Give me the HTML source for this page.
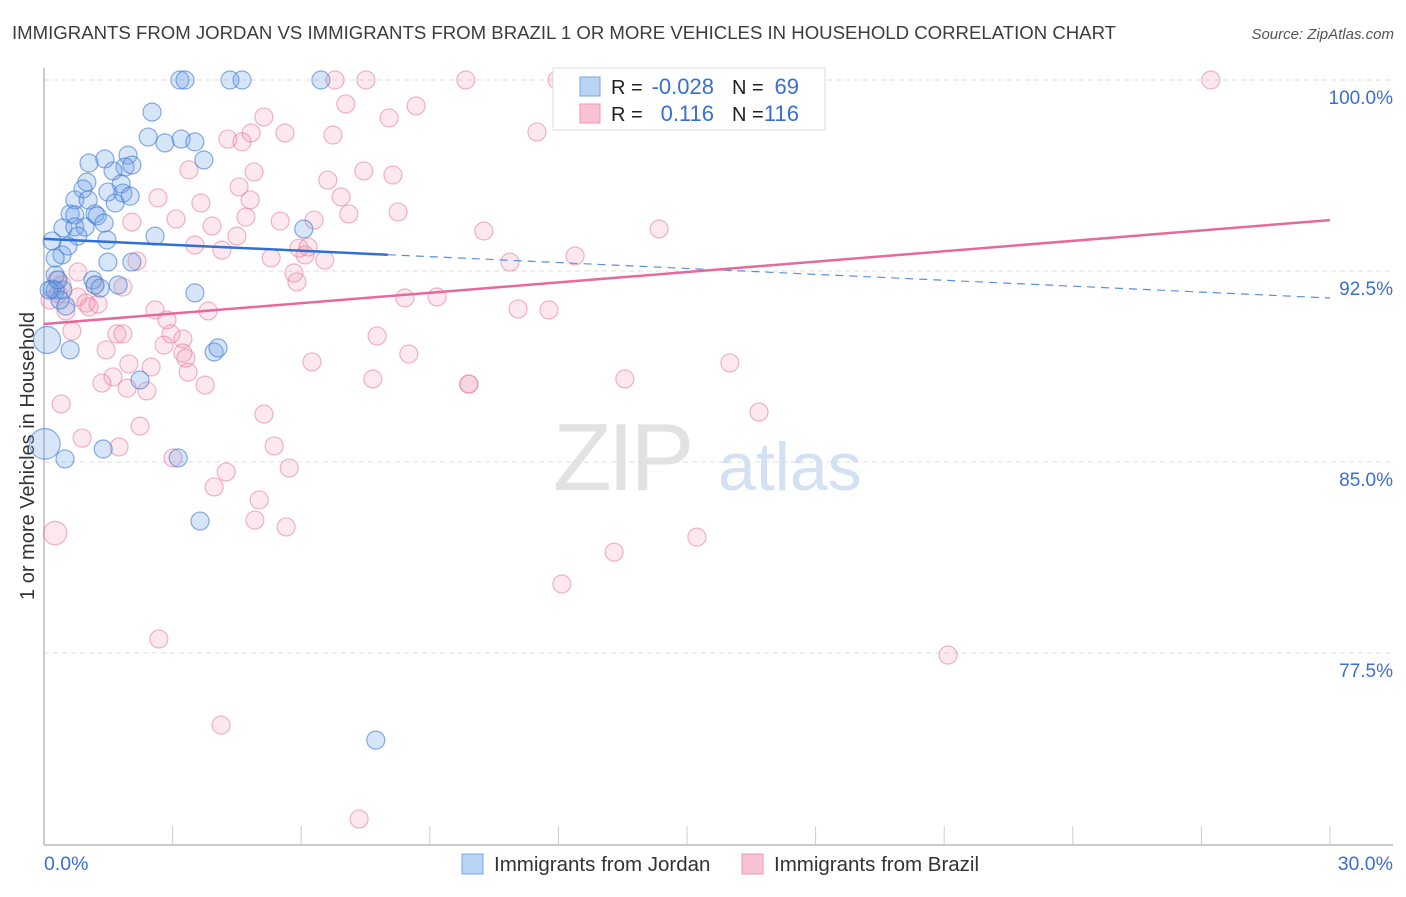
<!DOCTYPE html>
<html><head><meta charset="utf-8">
<style>
body{margin:0;background:#fff;font-family:"Liberation Sans",sans-serif;}
svg text{font-family:"Liberation Sans",sans-serif;}
</style></head>
<body>
<svg id="chart" width="1406" height="892" viewBox="0 0 1406 892" xmlns="http://www.w3.org/2000/svg">
<text x="12" y="39" font-size="18.6" fill="#3c3c3c">IMMIGRANTS FROM JORDAN VS IMMIGRANTS FROM BRAZIL 1 OR MORE VEHICLES IN HOUSEHOLD CORRELATION CHART</text>
<text x="1394" y="39" font-size="15" fill="#555" font-style="italic" text-anchor="end">Source: ZipAtlas.com</text>
<text transform="translate(34,456) rotate(-90)" font-size="20" fill="#333" text-anchor="middle">1 or more Vehicles in Household</text>
<g>
<text x="553" y="490" font-size="96" fill="#e2e2e2" font-family="Liberation Serif, serif" letter-spacing="-4">ZIP</text>
<text x="718" y="490" font-size="68" fill="#d3e1f3">atlas</text>
</g>
<g id="grid"></g>
<g id="axes"></g>
<g id="pts"></g>
<g id="trend"></g>
<g>
<rect x="553" y="68" width="272" height="62" fill="#fff" stroke="#ddd"/>
<rect x="580" y="77" width="20" height="19" fill="#b8d3f3" stroke="#7aa7e0"/>
<rect x="580" y="104" width="20" height="19" fill="#f7c3d3" stroke="#ec97b2"/>
<text x="611" y="94" font-size="20" fill="#222">R =</text>
<text x="714" y="94" font-size="22" fill="#3a6fd0" text-anchor="end">-0.028</text>
<text x="732" y="94" font-size="20" fill="#222">N =</text>
<text x="799" y="94" font-size="22" fill="#3a6fd0" text-anchor="end">69</text>
<text x="611" y="121" font-size="20" fill="#222">R =</text>
<text x="714" y="121" font-size="22" fill="#3a6fd0" text-anchor="end">0.116</text>
<text x="732" y="121" font-size="20" fill="#222">N =</text>
<text x="799" y="121" font-size="22" fill="#3a6fd0" text-anchor="end">116</text>
</g>
<g>
<rect x="462" y="854" width="21" height="20" fill="#b8d3f3" stroke="#7aa7e0"/>
<text x="494" y="871" font-size="20.5" fill="#333">Immigrants from Jordan</text>
</g>
<g>
<rect x="742" y="854" width="21" height="20" fill="#f7c3d3" stroke="#ec97b2"/>
<text x="774" y="871" font-size="20.5" fill="#333">Immigrants from Brazil</text>
</g>
</svg>
<script>
const yTicks=[100,92.5,85,77.5];
const yTickLabels=["100.0%","92.5%","85.0%","77.5%"];
const xTickLabels=["0.0%","30.0%"];
const jordanX=[3.17,3.29,4.34,4.62,6.46,2.52,2.43,2.82,3.20,3.52,3.73,1.05,1.42,1.96,1.89,2.05,1.61,1.00,0.91,1.49,1.80,1.84,2.01,0.72,1.03,1.66,0.61,0.72,1.19,1.24,0.44,0.72,0.96,1.40,0.79,2.59,6.06,0.19,0.56,1.47,0.42,0.26,1.49,2.05,0.26,0.19,0.44,1.14,1.19,1.73,3.52,0.51,0.61,0.07,3.97,4.06,2.24,0.02,0.49,1.38,3.13,3.64,7.74,0.26,0.37,0.33,0.12,1.31];
const jordanY=[100,100,100,100,100,98.74,97.76,97.53,97.68,97.57,96.86,96.74,96.90,97.05,96.58,96.66,96.43,95.99,95.72,95.60,95.92,95.56,95.44,95.29,95.29,95.17,94.74,94.70,94.74,94.66,94.19,94.23,94.23,94.38,93.87,93.87,94.15,93.68,93.48,93.72,93.13,93.01,92.85,92.85,92.34,91.79,91.75,92.15,91.95,91.95,91.64,91.12,89.40,89.79,89.32,89.48,88.22,85.71,85.12,85.51,85.16,82.68,74.08,91.75,91.36,92.15,91.75,91.83];
const jordanSize=[1,1,1,1,1,1,1,1,1,1,1,1,1,1,1,1,1,1,1,1,1,1,1,1,1,1,1,1,1,1,1,1,1,1,1,1,1,1,1,1,1,1,1,1,1,1,1,1,1,1,1,1,1,1.5,1,1,1,1.7,1,1,1,1,1,1,1,1,1,1];
const brazilX=[9.84,6.79,7.51,11.97,13.90,16.24,27.22,7.04,8.68,8.05,5.13,5.62,11.50,6.74,4.29,4.62,4.83,3.38,4.90,6.62,7.46,8.14,3.66,4.55,2.66,6.93,3.08,3.92,4.71,5.51,6.30,7.11,8.26,2.05,4.50,10.26,14.35,3.52,4.15,5.95,6.16,2.17,5.30,6.55,10.87,12.39,5.83,5.90,0.79,1.19,1.84,0.33,0.79,0.98,1.26,0.51,2.59,3.83,8.42,11.06,11.78,2.87,0.65,1.70,1.84,2.96,3.24,2.80,1.45,3.24,7.77,8.51,6.25,16.00,1.98,2.50,1.61,1.35,1.94,2.40,3.36,3.76,7.67,9.91,13.55,5.13,16.68,0.40,0.89,2.24,1.75,3.01,5.37,5.72,4.25,3.97,5.02,4.92,5.65,15.23,13.30,12.08,2.68,21.09,4.13,7.35,0.26,0.30,0.14,0.42,1.05,3.31,9.17,6.09,4.81,9.91];
const brazilY=[100,100,100,100,100,100,100,99.06,98.98,98.51,98.55,97.92,97.96,97.84,97.68,97.57,97.92,96.47,96.39,96.07,96.43,96.27,95.17,95.80,95.37,95.41,94.54,94.27,94.62,94.46,94.50,94.74,94.82,94.42,93.87,94.07,94.15,93.52,93.32,93.40,93.44,92.89,93.01,92.93,92.85,93.09,92.42,92.07,92.46,91.95,91.87,91.60,91.48,91.24,91.20,90.93,90.97,90.93,91.44,91.01,90.97,90.58,90.14,90.03,90.03,90.03,89.83,89.59,89.40,89.28,89.95,89.24,88.93,88.89,88.85,88.73,88.34,88.10,87.90,87.79,88.53,88.02,88.26,88.06,88.26,86.88,86.96,87.28,85.94,86.41,85.59,85.16,85.63,84.76,84.61,84.02,83.51,82.72,82.45,82.05,81.46,80.21,78.05,77.42,74.67,70.98,82.21,92.15,91.36,91.95,91.09,89.08,91.48,93.13,95.29,88.06];
const brazilSize=[1,1,1,1,1,1,1,1,1,1,1,1,1,1,1,1,1,1,1,1,1,1,1,1,1,1,1,1,1,1,1,1,1,1,1,1,1,1,1,1,1,1,1,1,1,1,1,1,1,1,1,1,1,1,1,1,1,1,1,1,1,1,1,1,1,1,1,1,1,1,1,1,1,1,1,1,1,1,1,1,1,1,1,1,1,1,1,1,1,1,1,1,1,1,1,1,1,1,1,1,1,1,1,1,1,1,1.3,1,1,1,1,1,1,1,1,1];
const jordanTrend=[93.76,91.44]; const jordanSolidEnd=8.02;
const brazilTrend=[90.42,94.50];

const NS="http://www.w3.org/2000/svg";
const X0=44,X1=1330,Y100=80,PXPER=191/7.5;
function sx(v){return X0+(X1-X0)*v/30;}
function sy(v){return Y100+(100-v)*PXPER;}
function mk(tag,attrs,parent){const e=document.createElementNS(NS,tag);for(const k in attrs)e.setAttribute(k,attrs[k]);parent.appendChild(e);return e;}
const grid=document.getElementById('grid'),axes=document.getElementById('axes'),pts=document.getElementById('pts'),trend=document.getElementById('trend');
yTicks.forEach((t,i)=>{
  const l=mk('line',{x1:X0,x2:1393,y1:sy(t),y2:sy(t),stroke:'#dcdcdc','stroke-dasharray':'5,4'},grid);
  
  
  const tx=mk('text',{x:1393,y:sy(t)+24,'font-size':19,fill:'#3a6fd0','text-anchor':'end'},grid);
  tx.textContent=yTickLabels[i];
  
  
});
const ya=mk('line',{x1:X0,x2:X0,y1:68,y2:845,stroke:'#bbb','stroke-width':1.5},axes);


const xa=mk('line',{x1:X0,x2:1393,y1:845,y2:845,stroke:'#bbb','stroke-width':1.5},axes);


for(let i=1;i<=10;i++){
  const t=mk('line',{x1:sx(i*3),x2:sx(i*3),y1:826,y2:845,stroke:'#ccc'},axes);
  
  
}
const xl0=mk('text',{x:X0,y:870,'font-size':19.5,fill:'#3a6fd0'},axes);xl0.textContent=xTickLabels[0];


const xl1=mk('text',{x:1393,y:870,'font-size':19.5,fill:'#3a6fd0','text-anchor':'end'},axes);xl1.textContent=xTickLabels[1];


brazilX.forEach((v,i)=>{
  const c=mk('circle',{cx:sx(v),cy:sy(brazilY[i]),r:9*brazilSize[i],fill:'rgba(240,140,170,0.2)',stroke:'rgba(230,120,155,0.55)','stroke-width':1.2},pts);
  
  
});
jordanX.forEach((v,i)=>{
  const c=mk('circle',{cx:sx(v),cy:sy(jordanY[i]),r:9*jordanSize[i],fill:'rgba(110,160,230,0.28)',stroke:'rgba(60,120,210,0.6)','stroke-width':1.2},pts);
  
  
});
function ty(tr,x){return tr[0]+(tr[1]-tr[0])*x/30;}
const bs=mk('line',{x1:sx(0),y1:sy(jordanTrend[0]),x2:sx(jordanSolidEnd),y2:sy(ty(jordanTrend,jordanSolidEnd)),stroke:'#2f6fd6','stroke-width':2.5},trend);


const bd=mk('line',{x1:sx(jordanSolidEnd),y1:sy(ty(jordanTrend,jordanSolidEnd)),x2:sx(30),y2:sy(jordanTrend[1]),stroke:'#5b8fdc','stroke-width':1.2,'stroke-dasharray':'8,6'},trend);


const pl=mk('line',{x1:sx(0),y1:sy(brazilTrend[0]),x2:sx(30),y2:sy(brazilTrend[1]),stroke:'#e8689a','stroke-width':2.5},trend);


</script>
</body></html>
